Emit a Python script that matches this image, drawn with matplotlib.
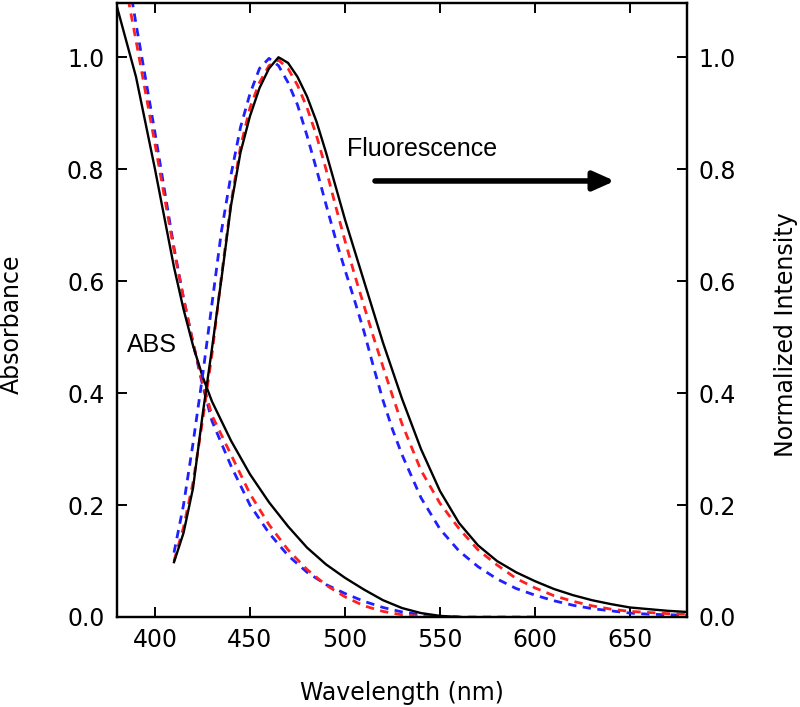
import matplotlib
matplotlib.use("Agg")
import matplotlib.pyplot as plt

# ---------------- data ----------------
# Absorbance spectra
abs_black_wl = [380, 390, 400, 410, 415, 420, 425, 430, 440, 450, 460, 470, 480, 490, 500, 510, 520, 530, 540, 550, 560]
abs_black = [1.09, 0.965, 0.80, 0.625, 0.55, 0.485, 0.43, 0.385, 0.315, 0.255, 0.205, 0.162, 0.124, 0.094, 0.07, 0.049, 0.03, 0.016, 0.007, 0.002, 0.0]

abs_red_wl = [385, 390, 400, 410, 415, 420, 425, 430, 440, 450, 460, 470, 480, 490, 500, 510, 520, 530, 540, 550, 575, 600]
abs_red = [1.12, 1.03, 0.845, 0.655, 0.57, 0.49, 0.42, 0.36, 0.29, 0.22, 0.165, 0.12, 0.085, 0.057, 0.036, 0.02, 0.01, 0.004, 0.001, 0.0, 0.0, 0.0]

abs_blue_wl = [387, 390, 400, 410, 415, 420, 425, 430, 440, 450, 460, 470, 480, 490, 500, 510, 520, 530, 540, 550, 560]
abs_blue = [1.12, 1.06, 0.865, 0.66, 0.57, 0.49, 0.415, 0.35, 0.27, 0.20, 0.15, 0.11, 0.08, 0.058, 0.042, 0.028, 0.017, 0.009, 0.004, 0.001, 0.0]

# Normalized fluorescence spectra
fl_wl = [410, 415, 420, 425, 430, 435, 440, 445, 450, 455, 460, 465, 470, 475, 480, 485, 490, 495, 500,
         505, 510, 515, 520, 525, 530, 540, 550, 560, 570, 580, 590, 600, 610, 620, 630, 640, 650, 660, 670, 680]
fl_black = [0.098, 0.15, 0.23, 0.36, 0.48, 0.605, 0.735, 0.83, 0.895, 0.945, 0.98, 1.0, 0.99, 0.965, 0.93, 0.885, 0.83, 0.77, 0.71,
            0.655, 0.60, 0.545, 0.49, 0.44, 0.39, 0.30, 0.225, 0.168, 0.128, 0.10, 0.08, 0.064, 0.05, 0.039, 0.03, 0.023, 0.017, 0.014, 0.011, 0.009]
fl_red = [0.10, 0.16, 0.24, 0.35, 0.47, 0.61, 0.74, 0.84, 0.91, 0.955, 0.985, 0.995, 0.98, 0.95, 0.91, 0.86, 0.80, 0.735, 0.672,
          0.612, 0.556, 0.50, 0.447, 0.395, 0.345, 0.262, 0.203, 0.158, 0.12, 0.093, 0.069, 0.052, 0.038, 0.028, 0.02, 0.014, 0.01, 0.008, 0.006, 0.005]
fl_blue = [0.115, 0.20, 0.31, 0.43, 0.56, 0.69, 0.79, 0.875, 0.935, 0.98, 0.998, 0.985, 0.955, 0.915, 0.86, 0.80, 0.737, 0.676, 0.62,
           0.566, 0.51, 0.447, 0.387, 0.335, 0.29, 0.213, 0.157, 0.118, 0.09, 0.068, 0.051, 0.039, 0.029, 0.021, 0.015, 0.011, 0.007, 0.005, 0.004, 0.003]

x_ticks = [400, 450, 500, 550, 600, 650]
y_ticks = [0.0, 0.2, 0.4, 0.6, 0.8, 1.0]

# ---------------- figure ----------------
plt.rcParams['font.family'] = ['DejaVu Sans']
fig = plt.figure(figsize=(8.0, 7.07), dpi=100)
ax = fig.add_axes([0.14625, 0.1273, 0.7125, 0.8685])
ax2 = ax.twinx()

dash = (0, (3.0, 2.3))
blue = '#1f1fff'
red = '#ff2020'
ax.plot(abs_blue_wl, abs_blue, color=blue, lw=2.0, linestyle=dash, zorder=2)
ax.plot(abs_red_wl, abs_red, color=red, lw=2.0, linestyle=dash, zorder=3)
ax.plot(abs_black_wl, abs_black, color='black', lw=1.7, zorder=4)

ax2.plot(fl_wl, fl_blue, color=blue, lw=2.0, linestyle=dash, zorder=2)
ax2.plot(fl_wl, fl_red, color=red, lw=2.0, linestyle=dash, zorder=3)
ax2.plot(fl_wl, fl_black, color='black', lw=1.7, zorder=4)

for a in (ax, ax2):
    a.set_xlim(380, 680)
    a.set_ylim(0, 1.097)
    for s in a.spines.values():
        s.set_linewidth(1.6)

ax.set_xticks(x_ticks)
ax.set_xticklabels([str(v) for v in x_ticks])
ax.set_yticks(y_ticks)
ax.set_yticklabels([f"{v:.1f}" for v in y_ticks])
ax2.set_yticks(y_ticks)
ax2.set_yticklabels([f"{v:.1f}" for v in y_ticks])

ax.tick_params(axis='x', direction='in', length=7, width=1.4, top=True, labelsize=17, pad=8)
ax.tick_params(axis='y', direction='in', length=7, width=1.4, labelsize=17, pad=9)
ax2.tick_params(axis='y', direction='in', length=7, width=1.4, labelsize=17, pad=8)

ax.set_xlabel('Wavelength (nm)', fontsize=17)
ax.xaxis.set_label_coords(0.5, -0.105)
ax.set_ylabel('Absorbance', fontsize=17)
ax.yaxis.set_label_coords(-0.163, 0.476)
ax2.set_ylabel('Normalized Intensity', fontsize=17, rotation=90)
ax2.yaxis.set_label_coords(1.152, 0.46)

# annotations
ax.text(385.3, 0.473, 'ABS', fontsize=18, family='Liberation Sans', ha='left', va='baseline')
ax2.text(501, 0.823, 'Fluorescence', fontsize=18, family='Liberation Sans', ha='left', va='baseline')
ax2.annotate('', xy=(642, 0.779), xytext=(515.8, 0.779),
             arrowprops=dict(arrowstyle='-|>,head_length=0.85,head_width=0.38', lw=4,
                             color='black', mutation_scale=15, shrinkA=0, shrinkB=0))

fig.savefig('out.png', dpi=100)
